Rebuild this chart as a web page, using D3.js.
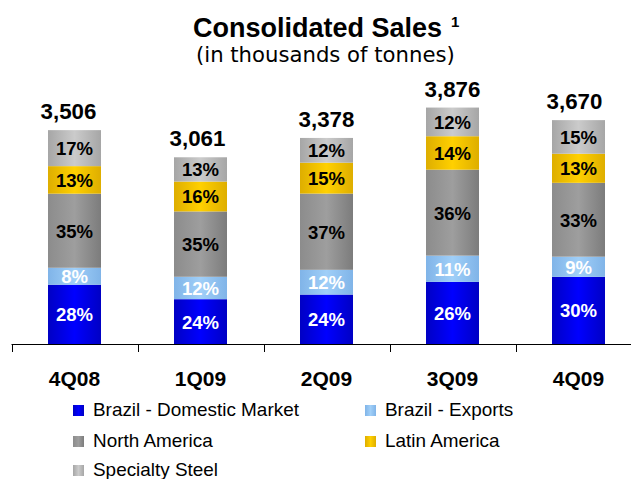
<!DOCTYPE html>
<html><head><meta charset="utf-8">
<script src="https://cdn.jsdelivr.net/npm/d3@7"></script>
<style>body{margin:0;background:#fff}svg{display:block}</style>
</head><body>
<script>
const categories = ["4Q08","1Q09","2Q09","3Q09","4Q09"];
const totals = [3506,3061,3378,3876,3670];
const seriesNames = ["Brazil - Domestic Market","Brazil - Exports","North America","Latin America","Specialty Steel"];
const brazilDomestic = [28,24,24,26,30];
const brazilExports = [8,12,12,11,9];
const northAmerica = [35,35,37,36,33];
const latinAmerica = [13,16,15,14,13];
const specialtySteel = [17,13,12,12,15];
const seriesPct = [brazilDomestic, brazilExports, northAmerica, latinAmerica, specialtySteel];
const totalLabelShift = [-6,-3,0,0,-4];
const colors = [
  ["#0000c4","#0000ff","#0000c4"],
  ["#80b4e8","#a0cff8","#80b4e8"],
  ["#8c8c8c","#9e9e9e","#7c7c7c"],
  ["#deae00","#ffd000","#deae00"],
  ["#a6a6a6","#cbcbcb","#a6a6a6"]
];
const labelColors = ["#fff","#fff","#000","#000","#000"];
const SANS="Arial, 'Liberation Sans', sans-serif";

const W=631,H=479;
const svg=d3.select("body").append("svg").attr("width",W).attr("height",H);
const defs=svg.append("defs");
colors.forEach((c,i)=>{
  const g=defs.append("linearGradient").attr("id","g"+i).attr("x1","0").attr("x2","1").attr("y1","0").attr("y2","0");
  g.append("stop").attr("offset","0").attr("stop-color",c[0]);
  g.append("stop").attr("offset","0.5").attr("stop-color",c[1]);
  g.append("stop").attr("offset","1").attr("stop-color",c[2]);
});
function fit(sel,w){const l=sel.node().getComputedTextLength();const s=+sel.attr("font-size");sel.attr("font-size",s*w/l);return sel;}

const baseY=344;
const x=d3.scaleBand().domain(categories).range([11.5,641.5]).paddingInner(0).paddingOuter(0);
const y=d3.scaleLinear().domain([0,4000]).range([baseY,baseY-4000*0.0610]);
const barW=53;

const rows=categories.map((c,i)=>{
  const sum=seriesPct.reduce((a,s)=>a+s[i],0);
  const r={cat:c};
  seriesNames.forEach((n,j)=>r[n]=totals[i]*seriesPct[j][i]/sum);
  return r;
});
const stack=d3.stack().keys(seriesNames)(rows);

// titles
fit(svg.append("text").attr("x",193).attr("y",37).attr("text-anchor","start")
  .attr("font-family",SANS).attr("font-weight","bold").attr("font-size",26)
  .text("Consolidated Sales"),249);
svg.append("text").attr("x",451).attr("y",27).attr("text-anchor","start")
  .attr("font-family",SANS).attr("font-weight","bold").attr("font-size",15)
  .text("1");
fit(svg.append("text").attr("x",196).attr("y",62).attr("text-anchor","start")
  .attr("font-family","'DejaVu Sans', Verdana, sans-serif").attr("font-size",21)
  .text("(in thousands of tonnes)"),259);

const gBars=svg.append("g");
stack.forEach((layer,j)=>{
  layer.forEach((d,i)=>{
    const cx=x(categories[i])+x.bandwidth()/2;
    gBars.append("rect").attr("x",cx-barW/2).attr("width",barW)
      .attr("y",y(d[1])).attr("height",y(d[0])-y(d[1]))
      .attr("fill","url(#g"+j+")");
    gBars.append("text").attr("x",cx).attr("y",(y(d[0])+y(d[1]))/2+7)
      .attr("text-anchor","middle").attr("fill",labelColors[j])
      .attr("font-family",SANS).attr("font-weight","bold").attr("font-size",18.5)
      .text(seriesPct[j][i]+"%");
  });
});
categories.forEach((c,i)=>{
  const cx=x(c)+x.bandwidth()/2+totalLabelShift[i];
  svg.append("text").attr("x",cx).attr("y",y(totals[i])-11).attr("text-anchor","middle")
    .attr("font-family",SANS).attr("font-weight","bold").attr("font-size",22.3)
    .text(d3.format(",")(totals[i]));
});

// axis
const ax=svg.append("g").attr("transform",`translate(0,${baseY})`);
ax.append("line").attr("x1",11.5).attr("x2",W).attr("y1",0.5).attr("y2",0.5).attr("stroke","#000");
const bounds=[11.5,...categories.map(c=>x(c)+x.bandwidth())];
bounds.forEach(b=>ax.append("line").attr("x1",Math.round(b)+0.5).attr("x2",Math.round(b)+0.5).attr("y1",0).attr("y2",8).attr("stroke","#000"));
categories.forEach(c=>{
  ax.append("text").attr("x",x(c)+x.bandwidth()/2).attr("y",42).attr("text-anchor","middle")
    .attr("font-family",SANS).attr("font-weight","bold").attr("font-size",21)
    .text(c);
});

// legend
const legPos=[[73,416],[365,416],[73,447],[365,447],[73,476]];
let legSize=null;
seriesNames.forEach((n,j)=>{
  const [lx,ly]=legPos[j];
  svg.append("rect").attr("x",lx).attr("y",ly-11).attr("width",11).attr("height",11).attr("fill","url(#g"+j+")");
  const t=svg.append("text").attr("x",lx+20).attr("y",ly).attr("font-family",SANS)
    .attr("font-size",legSize||19).attr("fill","#000").text(n);
  if(j===0){fit(t,206);legSize=+t.attr("font-size");}
});
</script>
</body></html>
